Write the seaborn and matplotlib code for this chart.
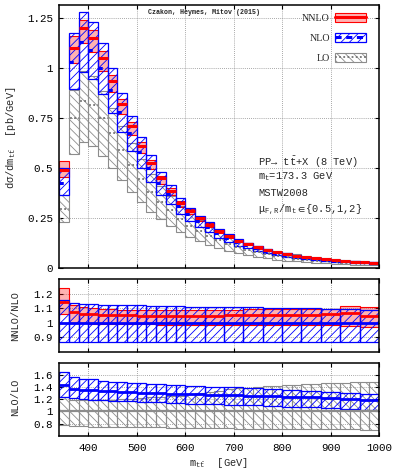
import matplotlib

matplotlib.use("Agg")
import matplotlib.pyplot as plt
import numpy as np
import seaborn as sns
from matplotlib.legend_handler import HandlerTuple
from matplotlib.lines import Line2D
from matplotlib.patches import Patch
from matplotlib.ticker import FixedLocator, FuncFormatter

# bins: 20 GeV everywhere in the main panel, 40 GeV above 600 GeV in the ratio bands
edges = np.arange(340, 1001, 20)
ratio_edges = np.r_[np.arange(340, 600, 20), np.arange(600, 1001, 40)]

# main panel [pb/GeV]
nnlo = [0.490, 1.103, 1.200, 1.153, 1.050, 0.938, 0.820, 0.712, 0.613, 0.528, 0.450,
        0.388, 0.328, 0.288, 0.250, 0.217, 0.186, 0.160, 0.138, 0.121, 0.104, 0.090,
        0.079, 0.070, 0.062, 0.055, 0.049, 0.044, 0.040, 0.036, 0.033, 0.030, 0.028]
nnlo_hi = [0.536, 1.160, 1.240, 1.190, 1.085, 0.968, 0.846, 0.734, 0.632, 0.544, 0.464,
           0.400, 0.338, 0.297, 0.258, 0.224, 0.192, 0.165, 0.142, 0.125, 0.107, 0.093,
           0.081, 0.072, 0.064, 0.057, 0.050, 0.045, 0.041, 0.037, 0.034, 0.031, 0.029]
nnlo_lo = [0.455, 1.025, 1.125, 1.083, 0.987, 0.882, 0.771, 0.669, 0.576, 0.496, 0.423,
           0.365, 0.308, 0.271, 0.235, 0.204, 0.175, 0.150, 0.130, 0.114, 0.098, 0.085,
           0.074, 0.066, 0.058, 0.052, 0.046, 0.041, 0.038, 0.034, 0.031, 0.028, 0.026]
nlo = [0.428, 1.030, 1.130, 1.090, 1.000, 0.892, 0.780, 0.675, 0.583, 0.500, 0.428,
       0.370, 0.314, 0.274, 0.238, 0.207, 0.177, 0.152, 0.131, 0.115, 0.099, 0.086,
       0.075, 0.067, 0.059, 0.052, 0.047, 0.042, 0.038, 0.034, 0.031, 0.029, 0.027]
nlo_hi = [0.500, 1.175, 1.280, 1.233, 1.128, 1.003, 0.878, 0.760, 0.655, 0.565, 0.480,
          0.415, 0.352, 0.304, 0.264, 0.230, 0.196, 0.169, 0.145, 0.128, 0.110, 0.095,
          0.083, 0.074, 0.065, 0.058, 0.052, 0.047, 0.042, 0.038, 0.034, 0.032, 0.030]
nlo_lo = [0.366, 0.895, 0.983, 0.948, 0.870, 0.778, 0.680, 0.588, 0.500, 0.433, 0.367,
          0.320, 0.272, 0.237, 0.206, 0.179, 0.153, 0.132, 0.113, 0.100, 0.086, 0.074,
          0.065, 0.058, 0.051, 0.045, 0.041, 0.036, 0.033, 0.029, 0.027, 0.025, 0.023]
lo = [0.297, 0.750, 0.838, 0.817, 0.753, 0.675, 0.592, 0.517, 0.447, 0.383, 0.333,
      0.290, 0.248, 0.213, 0.186, 0.162, 0.139, 0.120, 0.104, 0.092, 0.079, 0.069,
      0.060, 0.054, 0.048, 0.042, 0.0385, 0.0346, 0.0314, 0.0282, 0.0258, 0.0243, 0.0227]
# LO scale band relative to LO central (lower ratio panel)
lo_up = [1.23, 1.19, 1.18, 1.18, 1.18, 1.19, 1.20, 1.21, 1.22, 1.23, 1.24, 1.25, 1.26,
         1.28, 1.30, 1.32, 1.34, 1.36, 1.38, 1.39, 1.40, 1.41, 1.42, 1.43, 1.44, 1.45,
         1.455, 1.46, 1.465, 1.47, 1.475, 1.48, 1.49]
lo_dn = [0.775, 0.76, 0.755, 0.75, 0.748, 0.745, 0.743, 0.74, 0.738, 0.736, 0.735, 0.733,
         0.73, 0.728, 0.726, 0.724, 0.722, 0.72, 0.718, 0.716, 0.714, 0.712, 0.71, 0.709,
         0.708, 0.707, 0.706, 0.705, 0.704, 0.703, 0.702, 0.701, 0.70]

# NNLO/NLO panel
r_nn = [1.140, 1.072, 1.062, 1.058, 1.053, 1.052, 1.051, 1.050, 1.048, 1.048, 1.047, 1.046,
        1.046, 1.046, 1.047, 1.049, 1.052, 1.053, 1.053, 1.052, 1.056, 1.063, 1.045]
r_nn_hi = [1.240, 1.120, 1.108, 1.100, 1.094, 1.092, 1.090, 1.090, 1.088, 1.088, 1.087, 1.086,
           1.086, 1.086, 1.087, 1.089, 1.092, 1.094, 1.095, 1.094, 1.097, 1.113, 1.104]
r_nn_lo = [1.059, 0.996, 0.994, 0.992, 0.991, 0.990, 0.990, 0.989, 0.988, 0.988, 0.987, 0.986,
           0.986, 0.985, 0.985, 0.986, 0.987, 0.986, 0.985, 0.983, 0.982, 0.978, 0.969]
r_n_hi = [1.153, 1.138, 1.131, 1.126, 1.123, 1.121, 1.120, 1.119, 1.118, 1.117, 1.117, 1.116,
          1.115, 1.110, 1.108, 1.106, 1.104, 1.102, 1.100, 1.098, 1.096, 1.092, 1.090]
r_n_lo = [0.866, 0.866, 0.866, 0.867, 0.867, 0.867, 0.867, 0.866, 0.866, 0.866, 0.866, 0.866,
          0.866, 0.866, 0.866, 0.866, 0.866, 0.866, 0.866, 0.866, 0.866, 0.866, 0.866]

# NLO/LO panel
r_nl = [1.430, 1.370, 1.355, 1.345, 1.335, 1.327, 1.320, 1.313, 1.307, 1.302, 1.297, 1.292,
        1.288, 1.280, 1.272, 1.263, 1.254, 1.246, 1.237, 1.228, 1.218, 1.205, 1.190]
r_nl_hi = [1.650, 1.570, 1.540, 1.527, 1.504, 1.490, 1.480, 1.470, 1.462, 1.455, 1.448, 1.441,
           1.435, 1.422, 1.408, 1.393, 1.378, 1.362, 1.346, 1.328, 1.312, 1.295, 1.280]
r_nl_lo = [1.244, 1.217, 1.200, 1.190, 1.182, 1.175, 1.169, 1.163, 1.157, 1.152, 1.147, 1.142,
           1.137, 1.128, 1.118, 1.108, 1.098, 1.088, 1.077, 1.066, 1.054, 1.041, 1.028]

RED = "#ff0000"
PINK = (1.0, 0.0, 0.0, 0.3)
BLUE = "#0000ff"
GRAY = "#8c8c8c"
MONO = ["Liberation Mono", "DejaVu Sans Mono"]

sns.set_theme(style="ticks")
plt.rcParams.update({
    "font.family": MONO,
    "mathtext.fontset": "custom",
    "mathtext.rm": "Liberation Mono",
    "mathtext.it": "Liberation Mono",
    "mathtext.fallback": "stixsans",
    "hatch.linewidth": 0.6,
    "axes.edgecolor": "black",
    "axes.linewidth": 1.1,
    "xtick.color": "black",
    "ytick.color": "black",
    "xtick.direction": "in",
    "ytick.direction": "in",
    "xtick.top": True,
    "ytick.right": True,
    "xtick.major.size": 3,
    "ytick.major.size": 3,
    "xtick.major.width": 0.8,
    "ytick.major.width": 0.8,
    "xtick.labelsize": 7.8,
    "ytick.labelsize": 7.8,
})

HATCH_N = "////"
HATCH_L = "\\\\\\\\"
NLO_DASH = (0, (1.4, 5))
LO_DOTS = (1.7, (1, 1.3))


def band(ax, e, low, high, **kw):
    e = np.asarray(e, dtype=float)
    low = np.asarray(low)
    high = np.asarray(high)
    ax.bar(e[:-1], high - low, width=np.diff(e), bottom=low, align="edge", **kw)


def centre(ax, e, y, **kw):
    e = np.asarray(e, dtype=float)
    ax.hlines(y, e[:-1], e[1:], **kw)


fig = plt.figure(figsize=(3.99, 4.74), dpi=100)
ax0 = fig.add_axes([0.1486, 0.434, 0.8012, 0.5555])
ax1 = fig.add_axes([0.1486, 0.258, 0.8012, 0.1534])
ax2 = fig.add_axes([0.1486, 0.0808, 0.8012, 0.154])

lo_arr = np.asarray(lo)
# main panel
band(ax0, edges, lo_arr * np.asarray(lo_dn), lo_arr * np.asarray(lo_up),
     facecolor="none", edgecolor=GRAY, hatch=HATCH_L, linewidth=0.8)
band(ax0, edges, nnlo_lo, nnlo_hi, facecolor=PINK, edgecolor=RED, linewidth=0.8)
band(ax0, edges, nlo_lo, nlo_hi, facecolor="none", edgecolor=BLUE, hatch=HATCH_N, linewidth=0.9)
centre(ax0, edges, lo, colors="0.45", linewidth=1.3, linestyles=[LO_DOTS])
centre(ax0, edges, nlo, colors=BLUE, linewidth=2.2, linestyles=[NLO_DASH])
centre(ax0, edges, nnlo, colors=RED, linewidth=2.2)

# NNLO / NLO
band(ax1, ratio_edges, r_nn_lo, r_nn_hi, facecolor=PINK, edgecolor=RED, linewidth=0.8)
band(ax1, ratio_edges, r_n_lo, r_n_hi, facecolor="none", edgecolor=BLUE, hatch=HATCH_N, linewidth=0.9)
centre(ax1, ratio_edges, r_nn, colors=RED, linewidth=2.0)
ax1.axhline(1.0, color=BLUE, linewidth=2.0)

# NLO / LO
band(ax2, edges, lo_dn, lo_up, facecolor="none", edgecolor=GRAY, hatch=HATCH_L, linewidth=0.8)
ax2.axhline(1.0, color="0.55", linewidth=1.6)
band(ax2, ratio_edges, r_nl_lo, r_nl_hi, facecolor="none", edgecolor=BLUE, hatch=HATCH_N, linewidth=0.9)
centre(ax2, ratio_edges, r_nl, colors=BLUE, linewidth=2.0)

gfmt = FuncFormatter(lambda v, p: "%g" % round(v, 3))
for ax, lim, yt in [(ax0, (0, 1.317), [0, 0.25, 0.5, 0.75, 1, 1.25]),
                    (ax1, (0.8, 1.3), [0.9, 1.0, 1.1, 1.2]),
                    (ax2, (0.6, 1.8), [0.8, 1.0, 1.2, 1.4, 1.6])]:
    ax.set_xlim(340, 1000)
    ax.set_ylim(*lim)
    ax.xaxis.set_major_locator(FixedLocator([400, 500, 600, 700, 800, 900, 1000]))
    ax.yaxis.set_major_locator(FixedLocator(yt))
    ax.yaxis.set_major_formatter(gfmt)
    ax.xaxis.set_major_formatter(gfmt)
    ax.grid(True, color="0.55", linestyle=(0, (1, 1.5)), linewidth=0.6)
    ax.set_axisbelow(True)
    ax.tick_params(axis="y", pad=4.5)
    ax.tick_params(axis="x", pad=5)
    ax.set_facecolor("white")
ax0.tick_params(labelbottom=False)
ax1.tick_params(labelbottom=False)

handles = [
    (Patch(facecolor=PINK, edgecolor=RED, linewidth=0.8), Line2D([], [], color=RED, linewidth=2.2)),
    (Patch(facecolor="none", edgecolor=BLUE, hatch=HATCH_N, linewidth=0.9),
     Line2D([], [], color=BLUE, linewidth=2.2, linestyle=(0, (2, 1.5)))),
    (Patch(facecolor="none", edgecolor=GRAY, hatch=HATCH_L, linewidth=0.8),
     Line2D([], [], color="0.45", linewidth=1.3, linestyle=(0, (1, 1.3)))),
]
ax0.legend(handles, ["NNLO", "NLO", "LO"], loc="upper right", bbox_to_anchor=(0.959, 0.968),
           frameon=False, markerfirst=False, handlelength=3.1, handleheight=1.0,
           handletextpad=0.5, labelspacing=1.0, borderaxespad=0, borderpad=0,
           handler_map={tuple: HandlerTuple(ndivide=1)},
           prop={"family": "Liberation Serif", "size": 7.2})

H = 474.0
W = 399.0
fig.text(204 / W, 1 - 13 / H, "Czakon, Heymes, Mitov (2015)", ha="center", va="center",
         size=4.8, weight="bold")
x0 = 258 / W
fig.text(x0, 1 - 166.5 / H, r"PP→ $\mathrm{t\bar{t}}$+X (8 TeV)", size=7.5, va="baseline")
fig.text(x0, 1 - 179 / H, r"m$_\mathrm{t}$=173.3 GeV", size=7.5, va="baseline")
fig.text(x0, 1 - 196.5 / H, "MSTW2008", size=7.5, va="baseline")
fig.text(x0, 1 - 212 / H, r"μ$_\mathrm{F,R}$/m$_\mathrm{t}$$\in${0.5,1,2}", size=7.5, va="baseline")

fig.text(11 / W, 1 - 138 / H, r"dσ/dm$_\mathrm{t\bar{t}}$  [pb/GeV]", rotation=90,
         ha="center", va="center", size=7.5)
fig.text(15 / W, 1 - 316 / H, "NNLO/NLO", rotation=90, ha="center", va="center", size=7.5)
fig.text(15 / W, 1 - 397 / H, "NLO/LO", rotation=90, ha="center", va="center", size=7.5)
fig.text(218.7 / W, 1 - 463 / H, r"m$_\mathrm{t\bar{t}}$  [GeV]", ha="center", va="center", size=7.5)

fig.savefig("out.png", dpi=100)
